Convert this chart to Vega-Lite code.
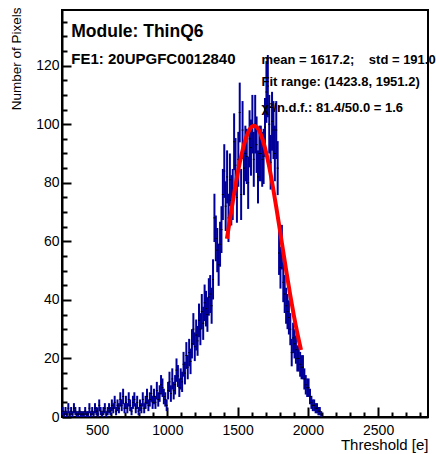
{
  "$schema": "https://vega.github.io/schema/vega-lite/v6.json",
  "autosize": "none",
  "width": 366,
  "height": 407,
  "padding": {"left": 62, "top": 10, "right": 8, "bottom": 37},
  "background": "white",
  "config": {
    "view": {"stroke": "black", "strokeWidth": 2},
    "font": "Liberation Sans",
    "axis": {"grid": false, "labelColor": "black", "tickColor": "black", "domainColor": "black", "titleColor": "black", "titleFontWeight": "normal", "labelFont": "Liberation Sans", "titleFont": "Liberation Sans"}
  },
  "datasets": {
    "hist": [
      {"x":255,"y":2,"e":1.41},{"x":265,"y":1,"e":1},{"x":275,"y":2,"e":1.41},{"x":285,"y":1,"e":1},{"x":295,"y":3,"e":1.73},
      {"x":305,"y":1,"e":1},{"x":315,"y":2,"e":1.41},{"x":325,"y":1,"e":1},{"x":335,"y":3,"e":1.73},{"x":345,"y":2,"e":1.41},
      {"x":355,"y":1,"e":1},{"x":365,"y":1,"e":1},{"x":375,"y":2,"e":1.41},{"x":385,"y":1,"e":1},{"x":395,"y":1,"e":1},
      {"x":405,"y":1,"e":1},{"x":415,"y":2,"e":1.41},{"x":425,"y":1,"e":1},{"x":435,"y":1,"e":1},{"x":445,"y":3,"e":1.73},
      {"x":455,"y":1,"e":1},{"x":465,"y":2,"e":1.41},{"x":475,"y":1,"e":1},{"x":485,"y":3,"e":1.73},{"x":495,"y":2,"e":1.41},
      {"x":505,"y":1,"e":1},{"x":515,"y":4,"e":2},{"x":525,"y":2,"e":1.41},{"x":535,"y":1,"e":1},{"x":545,"y":2,"e":1.41},
      {"x":555,"y":3,"e":1.73},{"x":565,"y":1,"e":1},{"x":575,"y":2,"e":1.41},{"x":585,"y":3,"e":1.73},{"x":595,"y":2,"e":1.41},
      {"x":605,"y":4,"e":2},{"x":615,"y":3,"e":1.73},{"x":625,"y":5,"e":2.24},{"x":635,"y":2,"e":1.41},{"x":645,"y":4,"e":2},
      {"x":655,"y":3,"e":1.73},{"x":665,"y":6,"e":2.45},{"x":675,"y":4,"e":2},{"x":685,"y":7,"e":2.65},{"x":695,"y":3,"e":1.73},
      {"x":705,"y":5,"e":2.24},{"x":715,"y":3,"e":1.73},{"x":725,"y":6,"e":2.45},{"x":735,"y":4,"e":2},{"x":745,"y":2,"e":1.41},
      {"x":755,"y":5,"e":2.24},{"x":765,"y":6,"e":2.45},{"x":775,"y":3,"e":1.73},{"x":785,"y":5,"e":2.24},{"x":795,"y":2,"e":1.41},
      {"x":805,"y":4,"e":2},{"x":815,"y":3,"e":1.73},{"x":825,"y":6,"e":2.45},{"x":835,"y":3,"e":1.73},{"x":845,"y":5,"e":2.24},
      {"x":855,"y":7,"e":2.65},{"x":865,"y":4,"e":2},{"x":875,"y":6,"e":2.45},{"x":885,"y":8,"e":2.83},{"x":895,"y":5,"e":2.24},
      {"x":905,"y":7,"e":2.65},{"x":915,"y":5,"e":2.24},{"x":925,"y":9,"e":3},{"x":935,"y":6,"e":2.45},{"x":945,"y":8,"e":2.83},
      {"x":955,"y":11,"e":3.32},{"x":965,"y":10,"e":3.16},{"x":975,"y":7,"e":2.65},{"x":985,"y":6,"e":2.45},{"x":995,"y":4,"e":2},
      {"x":1005,"y":9,"e":3},{"x":1015,"y":12,"e":3.46},{"x":1025,"y":8,"e":2.83},{"x":1035,"y":13,"e":3.61},{"x":1045,"y":9,"e":3},
      {"x":1055,"y":11,"e":3.32},{"x":1065,"y":16,"e":4},{"x":1075,"y":14,"e":3.74},{"x":1085,"y":10,"e":3.16},{"x":1095,"y":13,"e":3.61},
      {"x":1105,"y":12,"e":3.46},{"x":1115,"y":18,"e":4.24},{"x":1125,"y":15,"e":3.87},{"x":1135,"y":21,"e":4.58},{"x":1145,"y":17,"e":4.12},
      {"x":1155,"y":22,"e":4.69},{"x":1165,"y":19,"e":4.36},{"x":1175,"y":25,"e":5},{"x":1185,"y":30,"e":5.48},{"x":1195,"y":24,"e":4.9},
      {"x":1205,"y":28,"e":5.29},{"x":1215,"y":26,"e":5.1},{"x":1225,"y":33,"e":5.74},{"x":1235,"y":30,"e":5.48},{"x":1245,"y":36,"e":6},
      {"x":1255,"y":32,"e":5.66},{"x":1265,"y":39,"e":6.24},{"x":1275,"y":37,"e":6.08},{"x":1285,"y":35,"e":5.92},{"x":1295,"y":41,"e":6.4},
      {"x":1305,"y":42,"e":6.48},{"x":1315,"y":38,"e":6.16},{"x":1325,"y":47,"e":6.86},{"x":1335,"y":68,"e":8.25},{"x":1345,"y":61,"e":7.81},
      {"x":1355,"y":57,"e":7.55},{"x":1365,"y":52,"e":7.21},{"x":1375,"y":59,"e":7.68},{"x":1385,"y":64,"e":8},{"x":1395,"y":76,"e":8.72},
      {"x":1405,"y":84,"e":9.17},{"x":1415,"y":72,"e":8.49},{"x":1425,"y":82,"e":9.06},{"x":1435,"y":68,"e":8.25},{"x":1445,"y":81,"e":9},
      {"x":1455,"y":74,"e":8.6},{"x":1465,"y":76,"e":8.72},{"x":1475,"y":94,"e":9.7},{"x":1485,"y":86,"e":9.27},{"x":1495,"y":75,"e":8.66},
      {"x":1505,"y":88,"e":9.38},{"x":1515,"y":104,"e":10.2},{"x":1525,"y":76,"e":8.72},{"x":1535,"y":98,"e":9.9},{"x":1545,"y":85,"e":9.22},
      {"x":1555,"y":90,"e":9.49},{"x":1565,"y":89,"e":9.43},{"x":1575,"y":80,"e":8.94},{"x":1585,"y":95,"e":9.75},{"x":1595,"y":92,"e":9.59},
      {"x":1605,"y":100,"e":10},{"x":1615,"y":88,"e":9.38},{"x":1625,"y":100,"e":10},{"x":1635,"y":93,"e":9.64},{"x":1645,"y":82,"e":9.06},
      {"x":1655,"y":90,"e":9.49},{"x":1665,"y":90,"e":9.49},{"x":1675,"y":88,"e":9.38},{"x":1685,"y":89,"e":9.43},{"x":1695,"y":99,"e":9.95},
      {"x":1705,"y":111,"e":10.54},{"x":1715,"y":113,"e":10.63},{"x":1725,"y":100,"e":10},{"x":1735,"y":87,"e":9.33},{"x":1745,"y":101,"e":10.05},
      {"x":1755,"y":98,"e":9.9},{"x":1765,"y":90,"e":9.49},{"x":1775,"y":98,"e":9.9},{"x":1785,"y":85,"e":9.22},{"x":1795,"y":56,"e":7.48},
      {"x":1805,"y":51,"e":7.14},{"x":1815,"y":58,"e":7.62},{"x":1825,"y":46,"e":6.78},{"x":1835,"y":42,"e":6.48},{"x":1845,"y":38,"e":6.16},
      {"x":1855,"y":36,"e":6},{"x":1865,"y":34,"e":5.83},{"x":1875,"y":30,"e":5.48},{"x":1885,"y":22,"e":4.69},{"x":1895,"y":27,"e":5.2},
      {"x":1905,"y":25,"e":5},{"x":1915,"y":23,"e":4.8},{"x":1925,"y":20,"e":4.47},{"x":1935,"y":20,"e":4.47},{"x":1945,"y":18,"e":4.24},
      {"x":1955,"y":17,"e":4.12},{"x":1965,"y":17,"e":4.12},{"x":1975,"y":13,"e":3.61},{"x":1985,"y":11,"e":3.32},{"x":1995,"y":10,"e":3.16},
      {"x":2005,"y":10,"e":3.16},{"x":2015,"y":7,"e":2.65},{"x":2025,"y":5,"e":2.24},{"x":2035,"y":4,"e":2},{"x":2045,"y":4,"e":2},
      {"x":2055,"y":3,"e":1.73},{"x":2065,"y":3,"e":1.73},{"x":2075,"y":2,"e":1.41},{"x":2085,"y":2,"e":1.41},{"x":2095,"y":1,"e":1}
    ],
    "fit": [
      {"x":1423.8,"y":60.9},{"x":1450,"y":68.95},{"x":1475,"y":76.3},{"x":1500,"y":83.1},{"x":1525,"y":89.0},
      {"x":1550,"y":93.8},{"x":1575,"y":97.2},{"x":1600,"y":99.1},{"x":1617,"y":99.5},{"x":1625,"y":99.4},
      {"x":1650,"y":98.1},{"x":1675,"y":95.2},{"x":1700,"y":90.9},{"x":1725,"y":85.4},{"x":1750,"y":78.9},
      {"x":1775,"y":71.7},{"x":1800,"y":64.1},{"x":1825,"y":56.3},{"x":1850,"y":48.7},{"x":1875,"y":41.5},
      {"x":1900,"y":34.7},{"x":1925,"y":28.6},{"x":1951.2,"y":22.9}
    ]
  },
  "resolve": {"axis": {"x": "independent", "y": "independent"}},
  "layer": [
    {
      "data": {"name": "hist"},
      "mark": {"type": "errorbar", "color": "#000099", "thickness": 2},
      "encoding": {
        "x": {"field": "x", "type": "quantitative", "scale": {"domain": [250, 2855], "nice": false, "zero": false}, "axis": null},
        "y": {"field": "y", "type": "quantitative", "scale": {"domain": [0, 139], "nice": false, "zero": false}, "axis": null},
        "yError": {"field": "e"}
      }
    },
    {
      "data": {"name": "hist"},
      "mark": {"type": "point", "shape": "M-1,-0.5H1V0.5H-1Z", "size": 4, "filled": true, "color": "black", "opacity": 1, "strokeWidth": 0},
      "encoding": {
        "x": {"field": "x", "type": "quantitative", "scale": {"domain": [250, 2855], "nice": false, "zero": false},
          "axis": {"orient": "bottom", "values": [500, 1000, 1500, 2000, 2500], "tickSize": -10, "tickWidth": 2, "domainWidth": 2,
            "labelFontSize": 14, "labelPadding": 16, "labelFlush": false, "format": "d",
            "title": "Threshold [e]", "titleFontSize": 15, "titleX": 366, "titleY": 32, "titleAlign": "right", "titleBaseline": "alphabetic"}},
        "y": {"field": "y", "type": "quantitative", "scale": {"domain": [0, 139], "nice": false, "zero": false},
          "axis": {"orient": "left", "values": [0, 20, 40, 60, 80, 100, 120], "tickSize": -9, "tickWidth": 2, "domainWidth": 2,
            "labelFontSize": 14, "labelPadding": 12, "labelFlush": false, "format": "d",
            "title": "Number of Pixels", "titleFontSize": 13.5, "titleAngle": -90, "titleX": -53, "titleY": -3, "titleAlign": "right", "titleBaseline": "top"}}
      }
    },
    {
      "data": {"name": "fit"},
      "mark": {"type": "line", "color": "#ff0000", "strokeWidth": 4, "interpolate": "monotone"},
      "encoding": {
        "x": {"field": "x", "type": "quantitative", "scale": {"domain": [250, 2855], "nice": false, "zero": false},
          "axis": {"orient": "bottom", "values": [300,400,600,700,800,900,1100,1200,1300,1400,1600,1700,1800,1900,2100,2200,2300,2400,2600,2700,2800],
            "tickSize": -5, "tickWidth": 2, "labels": false, "domain": false, "title": null}},
        "y": {"field": "y", "type": "quantitative", "scale": {"domain": [0, 139], "nice": false, "zero": false},
          "axis": {"orient": "left", "values": [5,10,15,25,30,35,45,50,55,65,70,75,85,90,95,105,110,115,125,130,135],
            "tickSize": -5, "tickWidth": 2, "labels": false, "domain": false, "title": null}}
      }
    },
    {
      "data": {"values": [{}]},
      "mark": {"type": "text", "text": "Module: ThinQ6", "font": "Liberation Sans", "fontWeight": "bold", "fontSize": 17.5, "align": "left", "baseline": "alphabetic", "color": "black"},
      "encoding": {"x": {"datum": 316, "axis": null}, "y": {"datum": 129.7, "axis": null}}
    },
    {
      "data": {"values": [{}]},
      "mark": {"type": "text", "text": "FE1: 20UPGFC0012840", "font": "Liberation Sans", "fontWeight": "bold", "fontSize": 15, "align": "left", "baseline": "alphabetic", "color": "black"},
      "encoding": {"x": {"datum": 316, "axis": null}, "y": {"datum": 120.6, "axis": null}}
    },
    {
      "data": {"values": [{}]},
      "mark": {"type": "text", "text": "mean = 1617.2;\u00a0\u00a0\u00a0\u00a0std = 191.0", "font": "Liberation Sans", "fontWeight": "bold", "fontSize": 13, "align": "left", "baseline": "alphabetic", "color": "black"},
      "encoding": {"x": {"datum": 1670, "axis": null}, "y": {"datum": 120.6, "axis": null}}
    },
    {
      "data": {"values": [{}]},
      "mark": {"type": "text", "text": "Fit range: (1423.8, 1951.2)", "font": "Liberation Sans", "fontWeight": "bold", "fontSize": 13, "align": "left", "baseline": "alphabetic", "color": "black"},
      "encoding": {"x": {"datum": 1670, "axis": null}, "y": {"datum": 113.1, "axis": null}}
    },
    {
      "data": {"values": [{}]},
      "mark": {"type": "text", "text": "χ²/n.d.f.: 81.4/50.0 = 1.6", "font": "Liberation Sans", "fontWeight": "bold", "fontSize": 13, "align": "left", "baseline": "alphabetic", "color": "black"},
      "encoding": {"x": {"datum": 1670, "axis": null}, "y": {"datum": 104.2, "axis": null}}
    }
  ]
}
